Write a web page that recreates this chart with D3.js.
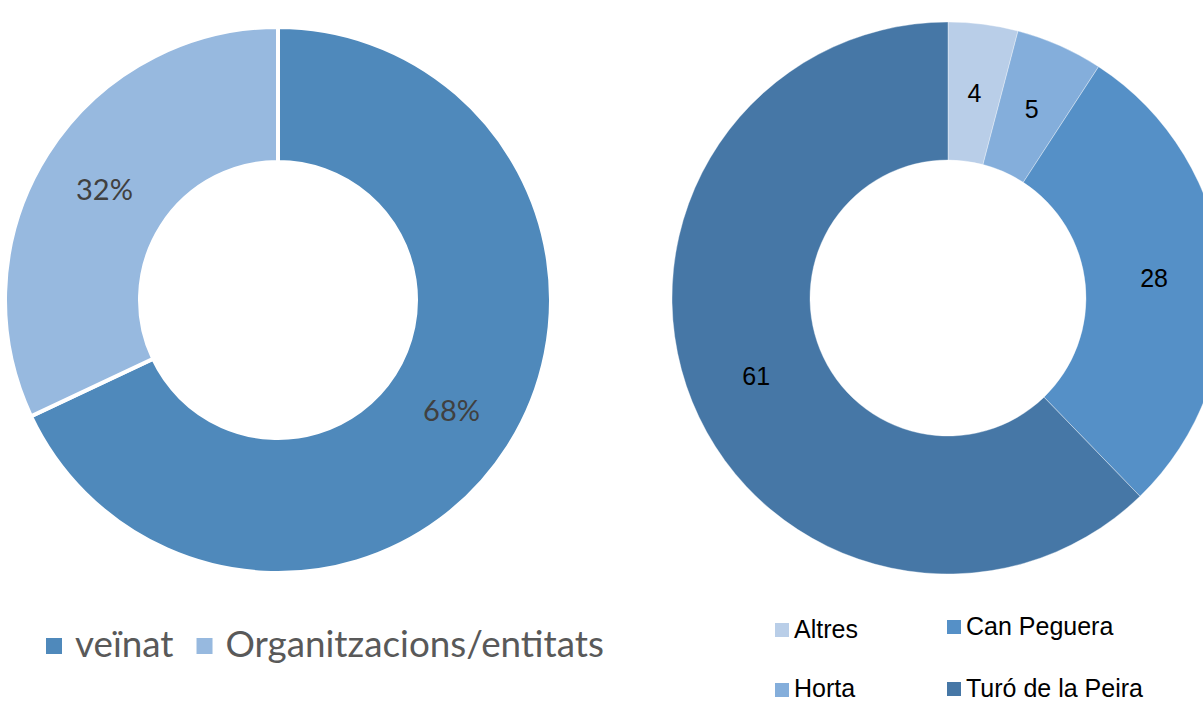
<!DOCTYPE html>
<html>
<head>
<meta charset="utf-8">
<script src="https://d3js.org/d3.v7.min.js"></script>
<style>
  body { margin: 0; background: #fff; }
  svg { display: block; }
</style>
</head>
<body>
<svg width="1203" height="702"></svg>
<script>
// left chart: share by type of participant
var typeLabels = ['veïnat', 'Organitzacions/entitats'];
var typeValues = [68, 32];
var typeColors = ['#4f89bb', '#97b9df'];

// right chart: participants by neighbourhood
var barriLabels = ['Altres', 'Horta', 'Can Peguera', 'Turó de la Peira'];
var barriValues = [4, 5, 28, 61];
var barriColors = ['#b9cee8', '#84aedb', '#5590c7', '#4677a6'];

var svg = d3.select('svg');

var pie = d3.pie().sort(null).value(function(d) { return d; });

/* ---
LEFT DONUT
--- */
var left = svg.append('g').attr('transform', 'translate(278,300)');
var leftArc = d3.arc().innerRadius(138).outerRadius(273);
var leftLabelArc = d3.arc().innerRadius(140).outerRadius(271);

left.selectAll('path')
  .data(pie(typeValues))
  .enter()
  .append('path')
  .attr('d', leftArc)
  .attr('fill', function(d, i) { return typeColors[i]; })
  .attr('stroke', '#fff')
  .attr('stroke-width', 4);

left.selectAll('text')
  .data(pie(typeValues))
  .enter()
  .append('text')
  .attr('transform', function(d) { return 'translate(' + leftLabelArc.centroid(d) + ')'; })
  .attr('text-anchor', 'middle')
  .attr('dy', '0.36em')
  .style('font-family', 'Lato, "Open Sans", sans-serif')
  .style('font-size', '29px')
  .style('fill', '#404040')
  .text(function(d) { return d.value + '%'; });

/* ---
RIGHT DONUT
--- */
var right = svg.append('g').attr('transform', 'translate(948,298)');
var rightArc = d3.arc().innerRadius(138).outerRadius(276);

right.selectAll('path')
  .data(pie(barriValues))
  .enter()
  .append('path')
  .attr('d', rightArc)
  .attr('fill', function(d, i) { return barriColors[i]; })
  .attr('stroke', '#fff')
  .attr('stroke-opacity', 0.6)
  .attr('stroke-width', 0.6);

right.selectAll('text')
  .data(pie(barriValues))
  .enter()
  .append('text')
  .attr('transform', function(d) { return 'translate(' + rightArc.centroid(d) + ')'; })
  .attr('text-anchor', 'middle')
  .attr('dy', '0.36em')
  .style('font-family', '"Liberation Sans", Arial, sans-serif')
  .style('font-size', '25px')
  .style('fill', '#000')
  .text(function(d) { return d.value; });

/* ---
LEGENDS
--- */
var leftLegend = svg.append('g');
var lx = 46;
typeLabels.forEach(function(name, i) {
  leftLegend.append('rect')
    .attr('x', lx).attr('y', 638)
    .attr('width', 16).attr('height', 16)
    .attr('fill', typeColors[i]);
  var t = leftLegend.append('text')
    .attr('x', lx + 29).attr('y', 657)
    .style('font-family', 'Lato, "Open Sans", sans-serif')
    .style('font-size', '36.8px')
    .style('fill', '#595959')
    .text(name);
  lx += 29 + t.node().getComputedTextLength() + 23;
});

// two columns, two rows, column-major order
var legPos = [
  {x: 775, y: 623}, {x: 775, y: 683},
  {x: 947, y: 620}, {x: 947, y: 682}
];
var rightLegend = svg.append('g');
barriLabels.forEach(function(name, i) {
  var p = legPos[i];
  rightLegend.append('rect')
    .attr('x', p.x).attr('y', p.y)
    .attr('width', 14).attr('height', 14)
    .attr('fill', barriColors[i]);
  rightLegend.append('text')
    .attr('x', p.x + 19).attr('y', Math.min(p.y + 15, 697))
    .style('font-family', '"Liberation Sans", Arial, sans-serif')
    .style('font-size', '25px')
    .style('fill', '#000')
    .text(name);
});
</script>
</body>
</html>
